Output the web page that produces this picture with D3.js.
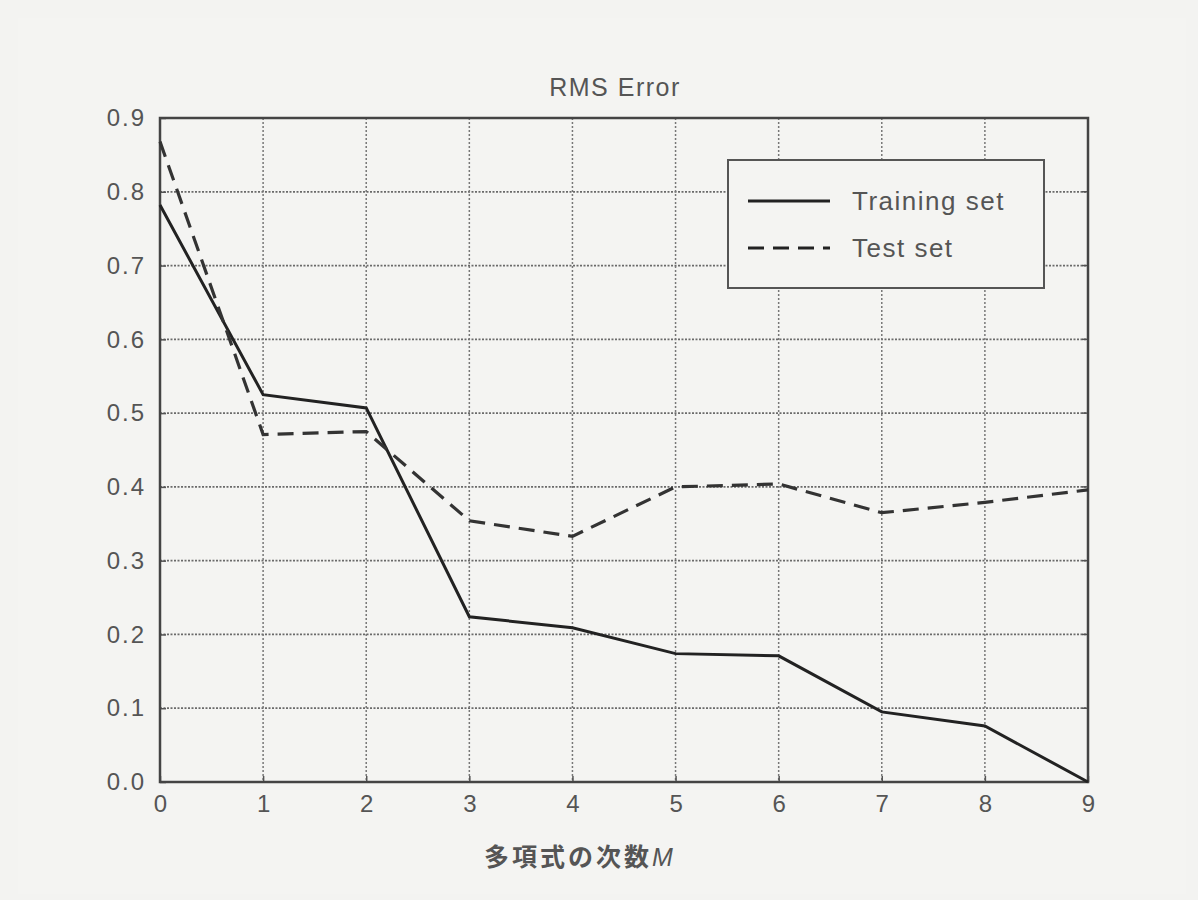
<!DOCTYPE html>
<html>
<head>
<meta charset="utf-8">
<script src="https://cdn.jsdelivr.net/npm/d3@7"></script>
<style>
  body { margin: 0; background: #f3f3f1; }
  svg { display: block; }
</style>
</head>
<body>
<div id="chart"></div>
<script>
// polynomial order M
const orders = [0, 1, 2, 3, 4, 5, 6, 7, 8, 9];
const trainingRms = [0.782, 0.525, 0.507, 0.224, 0.209, 0.174, 0.171, 0.095, 0.076, 0.0];
const testRms = [0.868, 0.471, 0.475, 0.354, 0.333, 0.400, 0.404, 0.365, 0.379, 0.396];
const yTicks = [0.0, 0.1, 0.2, 0.3, 0.4, 0.5, 0.6, 0.7, 0.8, 0.9];
const seriesNames = ['Training set', 'Test set'];

const W = 1198, H = 900;
const margin = { top: 118, right: 110, bottom: 118, left: 160 };
const width = W - margin.left - margin.right;
const height = H - margin.top - margin.bottom;

const svg = d3.select('#chart').append('svg')
  .attr('width', W)
  .attr('height', H);

svg.append('rect')
  .attr('x', 18).attr('y', 18)
  .attr('width', W - 30).attr('height', H - 24)
  .attr('fill', '#f4f4f2');

const g = svg.append('g')
  .attr('transform', `translate(${margin.left},${margin.top})`);

const x = d3.scaleLinear().domain([0, 9]).range([0, width]);
const y = d3.scaleLinear().domain([0, 0.9]).range([height, 0]);

// grid
g.append('g').selectAll('line.hgrid')
  .data(yTicks.slice(1, -1))
  .enter().append('line')
  .attr('x1', 0).attr('x2', width)
  .attr('y1', d => y(d)).attr('y2', d => y(d))
  .attr('stroke', '#6a6a6a')
  .attr('stroke-width', 1.8)
  .attr('stroke-dasharray', '2,1.5');

g.append('g').selectAll('line.vgrid')
  .data(orders.slice(1, -1))
  .enter().append('line')
  .attr('x1', d => x(d)).attr('x2', d => x(d))
  .attr('y1', 0).attr('y2', height)
  .attr('stroke', '#777')
  .attr('stroke-width', 1.5)
  .attr('stroke-dasharray', '2,2');

// axes
const fontFam = 'Liberation Sans, Arial, sans-serif';
const xAxis = g.append('g')
  .attr('transform', `translate(0,${height})`)
  .call(d3.axisBottom(x).tickValues(orders).tickFormat(d3.format('d')).tickSize(-6).tickPadding(13));
const yAxis = g.append('g')
  .call(d3.axisLeft(y).tickValues(yTicks).tickFormat(d3.format('.1f')).tickSize(-6).tickPadding(14));

[xAxis, yAxis].forEach(a => {
  a.select('.domain').remove();
  a.selectAll('line').attr('stroke', '#555').attr('stroke-width', 1.5);
  a.selectAll('text')
    .attr('fill', '#555')
    .style('font-family', fontFam)
    .style('font-size', '24px');
});
yAxis.selectAll('text').style('letter-spacing', '2px');

// right ticks
g.append('g').selectAll('line')
  .data(yTicks)
  .enter().append('line')
  .attr('x1', width).attr('x2', width - 6)
  .attr('y1', d => y(d)).attr('y2', d => y(d))
  .attr('stroke', '#555').attr('stroke-width', 1.5);

// frame
g.append('rect')
  .attr('width', width).attr('height', height)
  .attr('fill', 'none')
  .attr('stroke', '#444')
  .attr('stroke-width', 2.5);

// lines
const line = d3.line()
  .x((d, i) => x(orders[i]))
  .y(d => y(d));

g.append('path')
  .datum(trainingRms)
  .attr('d', line)
  .attr('fill', 'none')
  .attr('stroke', '#222')
  .attr('stroke-width', 3);

g.append('path')
  .datum(testRms)
  .attr('d', line)
  .attr('fill', 'none')
  .attr('stroke', '#333')
  .attr('stroke-width', 3.2)
  .attr('stroke-dasharray', '16,9');

// legend
const lg = svg.append('g').attr('transform', 'translate(728,160)');
lg.append('rect')
  .attr('width', 316).attr('height', 128)
  .attr('fill', '#f4f4f2')
  .attr('stroke', '#555')
  .attr('stroke-width', 2);

seriesNames.forEach((name, i) => {
  const ly = 41 + i * 47;
  lg.append('line')
    .attr('x1', 20).attr('x2', 102)
    .attr('y1', ly).attr('y2', ly)
    .attr('stroke', '#222')
    .attr('stroke-width', 3)
    .attr('stroke-dasharray', i === 1 ? '16,9' : null);
  lg.append('text')
    .attr('x', 124).attr('y', ly + 9)
    .attr('fill', '#555')
    .style('font-family', fontFam)
    .style('font-size', '26px')
    .style('letter-spacing', '1.5px')
    .text(name);
});

// title
svg.append('text')
  .attr('x', 615).attr('y', 96)
  .attr('text-anchor', 'middle')
  .attr('fill', '#555')
  .style('font-family', fontFam)
  .style('font-size', '25px')
  .style('letter-spacing', '1.5px')
  .text('RMS Error');

// x label
const xl = svg.append('text')
  .attr('x', 580).attr('y', 866)
  .attr('text-anchor', 'middle')
  .attr('fill', '#555')
  .style('font-family', 'Noto Sans CJK JP, sans-serif')
  .style('font-size', '25px')
  .style('font-weight', 'bold')
  .style('letter-spacing', '3px');
xl.append('tspan').text('多項式の次数');
xl.append('tspan').style('font-style', 'italic').style('font-family', fontFam).style('font-weight', 'normal').text('M');
</script>
</body>
</html>
